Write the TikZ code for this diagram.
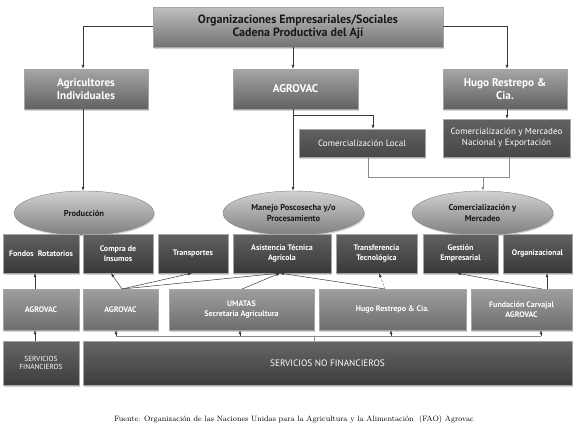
\documentclass[tikz,border=0pt]{standalone}
\usepackage{fontspec}
\setsansfont{PT Sans}
\usetikzlibrary{arrows.meta,shadows,calc,shapes.geometric}
\definecolor{lineC}{HTML}{3A3A3A}
\definecolor{brC}{HTML}{8A8A8A}
\begin{document}
\begin{tikzpicture}[x=1pt,y=-1pt,
  base/.style={rectangle, inner sep=1pt, align=center, font=\sffamily\bfseries,
     drop shadow={shadow xshift=1pt, shadow yshift=-1.5pt, opacity=0.35}, draw=black!35, line width=0.3pt},
  topbox/.style={base, top color=black!25, bottom color=black!55, text=black!90, font=\sffamily\bfseries\fontsize{12}{13.5}\selectfont},
  midbox/.style={base, top color=black!35, bottom color=black!62, text=white, font=\sffamily\bfseries\fontsize{11.2}{12.5}\selectfont},
  subbox/.style={base, top color=black!62, bottom color=black!72, text=white, font=\sffamily\fontsize{9}{11}\selectfont},
  ell/.style={ellipse, inner sep=0pt, align=center, top color=black!18, bottom color=black!50, draw=black!50, line width=0.4pt,
     drop shadow={shadow xshift=1pt, shadow yshift=-1.5pt, opacity=0.35}, font=\sffamily\bfseries\fontsize{8.5}{10.5}\selectfont, text=black!90},
  r1/.style={base, top color=black!62, bottom color=black!78, text=white, font=\sffamily\bfseries\fontsize{8}{9.8}\selectfont, minimum height=39pt},
  r2/.style={base, top color=black!38, bottom color=black!57, text=white, font=\sffamily\bfseries\fontsize{8}{9.8}\selectfont, minimum height=41pt},
  r3/.style={base, top color=black!60, bottom color=black!76, text=white, font=\sffamily\fontsize{9.3}{11}\selectfont, minimum height=44pt},
  arr/.style={-{Latex[length=4pt,width=3pt]}, draw=lineC, line width=0.5pt},
  br/.style={draw=brC, line width=0.6pt},
  brarr/.style={-{Latex[length=4pt,width=3pt]}, draw=brC, line width=0.6pt},
]
\useasboundingbox (0,0) rectangle (574,440);
\fill[white] (0,0) rectangle (574,440);

% top
\node[topbox, minimum width=290pt, minimum height=40pt] (top) at (298,27) {Organizaciones Empresariales/Sociales\\Cadena Productiva del Ají};
\node[midbox, minimum width=124pt, minimum height=40pt] (agri) at (86,89) {Agricultores\\Individuales};
\node[midbox, minimum width=125pt, minimum height=40pt] (agrotop) at (295.5,89) {AGROVAC};
\node[midbox, minimum width=124pt, minimum height=40pt] (hugotop) at (505,89) {Hugo Restrepo \&\\Cia.};
\node[subbox, minimum width=126pt, minimum height=28pt] (comloc) at (362,143) {Comercialización Local};
\node[subbox, minimum width=127pt, minimum height=38pt, inner sep=0pt] (commer) at (506.5,138) {Comercialización y Mercadeo\\Nacional y Exportación};

% ellipses
\node[ell, minimum width=140pt, minimum height=44pt] (prod) at (84,213) {Producción};
\node[ell, minimum width=141pt, minimum height=44pt] (manejo) at (293.5,213) {Manejo Poscosecha y/o\\Procesamiento};
\node[ell, minimum width=141pt, minimum height=44pt] (comell) at (482.5,213) {Comercialización y\\Mercadeo};

% row 1
\node[r1, minimum width=76pt] (fondos) at (41,253.5) {Fondos\ \ Rotatorios};
\node[r1, minimum width=70pt] (compra) at (118,253.5) {Compra de\\Insumos};
\node[r1, minimum width=70pt] (transp) at (193,253.5) {Transportes};
\node[r1, minimum width=98pt] (asist) at (282,253.5) {Asistencia Técnica\\Agrícola};
\node[r1, minimum width=81pt] (transf) at (376.5,253.5) {Transferencia\\Tecnológica};
\node[r1, minimum width=75pt] (gest) at (460.5,253.5) {Gestión\\Empresarial};
\node[r1, minimum width=69pt] (organ) at (537.5,253.5) {Organizacional};

% row 2
\node[r2, minimum width=76pt] (agro1) at (41,309.5) {AGROVAC};
\node[r2, minimum width=75pt] (agro2) at (120.5,309.5) {AGROVAC};
\node[r2, minimum width=145pt] (umatas) at (241.5,309.5) {UMATAS\\Secretaria Agricultura};
\node[r2, minimum width=147pt] (hugor) at (392.5,309.5) {Hugo Restrepo \& Cia.};
\node[r2, minimum width=101pt] (fund) at (521.5,309.5) {Fundación Carvajal\\AGROVAC};

% row 3
\node[r3, minimum width=76pt, font=\sffamily\fontsize{7.3}{8.5}\selectfont] (sf) at (41,363) {SERVICIOS\\FINANCIEROS};
\node[r3, minimum width=489pt] (snf) at (327.5,363) {SERVICIOS NO FINANCIEROS};

% caption
\node[font=\rmfamily\fontsize{7.7}{9}\selectfont, text=black] (cap) at (294,420) {Fuente: Organización de las Naciones Unidas para la Agricultura y la Alimentación\ \ (FAO) Agrovac};

% top connectors
\draw[arr] (top.west |- 0,26) -| (agri.north -| 83,0);
\draw[arr] (top.east |- 0,26) -| (hugotop.north -| 507,0);
\draw[arr] (top.south -| 293,0) -- (agrotop.north -| 293,0);
\draw[arr] (hugotop.south -| 507,0) -- (commer.north -| 507,0);
\draw[arr] (agri.south -| 83,0) -- (prod.north -| 83,0);
\draw[arr] (agrotop.south -| 293,0) -- (manejo.north -| 293,0);
\coordinate (brA) at (293,115);
\draw[arr] (brA) -| (comloc.north -| 373,0);
% bracket
\coordinate (bk1) at (368,177);
\coordinate (bk2) at (509,177);
\coordinate (bkm) at (483,177);
\draw[br] (comloc.south -| bk1) -- (bk1) -- (bk2) -- (commer.south -| bk2);
\draw[brarr] (bkm) -- (comell.north -| bkm);

% row2 -> row1
\coordinate (a2) at (122,289);
\coordinate (um) at (242,289);
\coordinate (hr) at (385,289);
\coordinate (fd) at (542,289);
\coordinate (tAs) at (280,273);
\draw[arr] (agro1.north -| 35,0) -- (fondos.south -| 35,0);
\draw[arr] (a2) -- (compra.south -| 111,0);
\draw[arr] (a2) -- (transp.south -| 192,0);
\draw[arr] (a2) -- (asist.south -| tAs);
\draw[arr] (um) -- (asist.south -| tAs);
\draw[arr] (hr) -- (asist.south -| tAs);
\draw[arr, densely dotted] (hr) -- (transf.south -| 379,0);
\draw[arr] (fd) -- (gest.south -| 457,0);
\draw[arr] (organ.south -| 547,0) ++(0,16) -- (organ.south -| 547,0);

% row3 -> row2
\draw[arr] (sf.north -| 35,0) -- (agro1.south -| 35,0);
\coordinate (hl) at (116,336);
\coordinate (hr2) at (541,336);
\draw[br] (snf.north -| 314,0) -- (314,336);
\draw[br] (hl) -- (hr2);
\draw[arr] (hl) -- (agro2.south -| hl);
\draw[arr] (240,336) -- (umatas.south -| 240,0);
\draw[arr] (391,336) -- (hugor.south -| 391,0);
\draw[arr] (hr2) -- (fund.south -| hr2);
\end{tikzpicture}
\end{document}
